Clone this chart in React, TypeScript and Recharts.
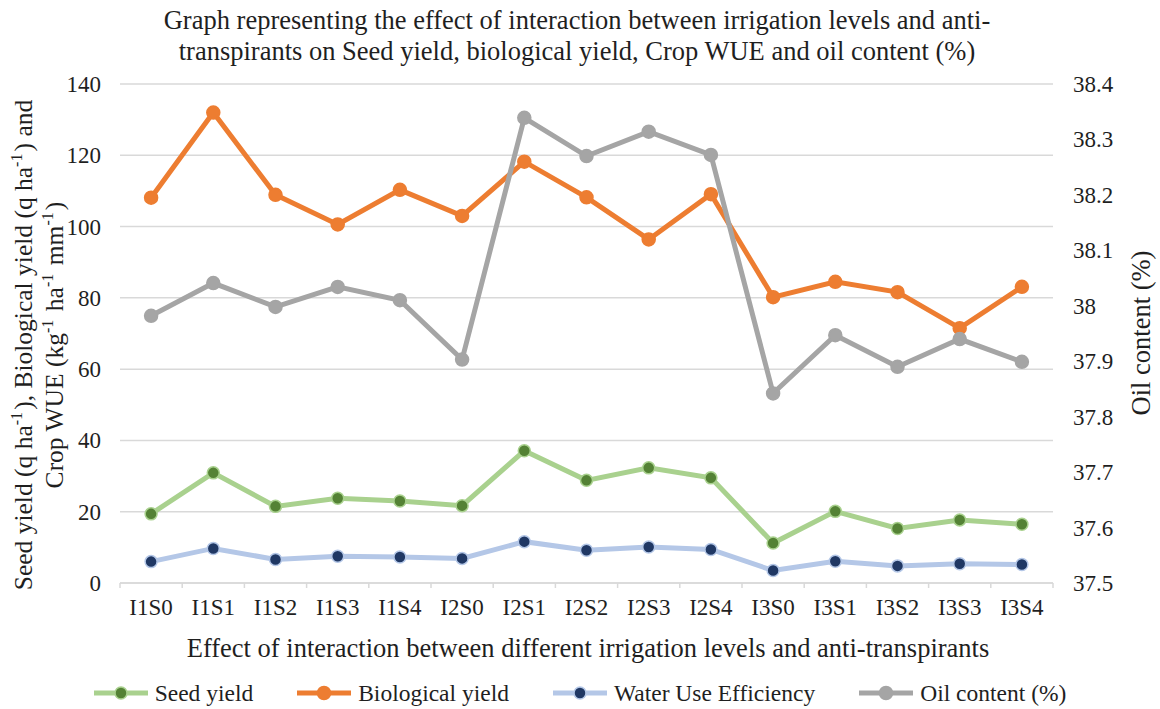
import React from 'react';
import { LineChart, Line, XAxis, YAxis, CartesianGrid } from 'recharts';

const categories = ['I1S0','I1S1','I1S2','I1S3','I1S4','I2S0','I2S1','I2S2','I2S3','I2S4','I3S0','I3S1','I3S2','I3S3','I3S4'];
const seedYield = [19.4,30.9,21.5,23.8,23.0,21.7,37.1,28.8,32.3,29.5,11.2,20.1,15.3,17.7,16.5];
const biologicalYield = [108.1,132.0,108.9,100.6,110.3,103.0,118.2,108.2,96.4,109.1,80.2,84.5,81.6,71.5,83.1];
const waterUseEfficiency = [6.0,9.7,6.6,7.5,7.3,6.9,11.6,9.2,10.1,9.4,3.5,6.1,4.8,5.4,5.2];
const oilContent = [37.982,38.041,37.998,38.034,38.010,37.903,38.339,38.270,38.314,38.272,37.842,37.947,37.890,37.940,37.899];

const leftTicks = [0,20,40,60,80,100,120,140];
const rightTicks = [37.5,37.6,37.7,37.8,37.9,38,38.1,38.2,38.3,38.4];

const seriesNames = ['Seed yield','Biological yield','Water Use Efficiency','Oil content (%)'];
const lineColors = ['#A9D18E','#ED7D31','#B4C7E7','#A5A5A5'];
const markerColors = ['#548235','#ED7D31','#203864','#A5A5A5'];
const markerRadius = [6, 6.5, 6, 6.5];

const data = categories.map((c, i) => ({
  cat: c,
  seed: seedYield[i],
  bio: biologicalYield[i],
  wue: waterUseEfficiency[i],
  oil: oilContent[i],
}));

const W = 1160;
const H = 709;
const LEFT_W = 120;
const RIGHT_W = 107;
const TOP = 84;
const XAXIS_H = 126;
const plotW = W - LEFT_W - RIGHT_W;
const half = plotW / categories.length / 2;
const FONT = '"Liberation Serif", "Times New Roman", serif';
const TEXT = '#1f1f1f';
const GRID = '#D9D9D9';
const TICK_FS = 23;
const TITLE_FS = 26.5;
const AXIS_TITLE_FS = 25.5;

const XTick = (props: any) => {
  const { x, y, payload, index } = props;
  return (
    <g>
      <line x1={x - half} x2={x - half} y1={y} y2={y + 5} stroke={GRID} strokeWidth={1.5} />
      {index === categories.length - 1 && (
        <line x1={x + half} x2={x + half} y1={y} y2={y + 5} stroke={GRID} strokeWidth={1.5} />
      )}
      <text x={x} y={y + 32} textAnchor="middle" fontFamily={FONT} fontSize={TICK_FS} fill={TEXT}>
        {payload.value}
      </text>
    </g>
  );
};

const LeftTick = (props: any) => {
  const { x, y, payload } = props;
  return (
    <text x={x} y={y + 8} textAnchor="end" fontFamily={FONT} fontSize={TICK_FS} fill={TEXT}>
      {payload.value}
    </text>
  );
};

const RightTick = (props: any) => {
  const { x, y, payload } = props;
  return (
    <text x={x} y={y + 8} textAnchor="start" fontFamily={FONT} fontSize={TICK_FS} fill={TEXT}>
      {String(Math.round(payload.value * 10) / 10)}
    </text>
  );
};

const dot = (i: number) => ({
  r: markerRadius[i],
  fill: markerColors[i],
  stroke: lineColors[i],
  strokeWidth: 1.5,
});

const Sup = ({ children }: { children: React.ReactNode }) => (
  <>
    <tspan dy={-10} fontSize={16}>{children}</tspan>
    <tspan dy={10}>{'\u200A'}</tspan>
  </>
);

export default function App() {
  const cy = 345;
  const cyR = 333;
  return (
    <div style={{ position: 'absolute', left: 0, top: 0, width: W, height: H, background: '#fff' }}>
      <LineChart width={W} height={H} data={data} margin={{ top: TOP, right: 0, bottom: 0, left: 0 }}>
        <CartesianGrid yAxisId="left" vertical={false} stroke={GRID} strokeWidth={1.5} />
        <XAxis
          dataKey="cat"
          height={XAXIS_H}
          padding={{ left: half, right: half }}
          axisLine={{ stroke: GRID, strokeWidth: 1.5 }}
          tickLine={false}
          tickSize={0}
          tickMargin={0}
          interval={0}
          tick={<XTick />}
        />
        <YAxis
          yAxisId="left"
          width={LEFT_W}
          domain={[0, 140]}
          ticks={leftTicks}
          axisLine={false}
          tickLine={false}
          tickSize={0}
          tickMargin={19}
          tick={<LeftTick />}
        />
        <YAxis
          yAxisId="right"
          orientation="right"
          width={RIGHT_W}
          domain={[37.5, 38.4]}
          ticks={rightTicks}
          axisLine={false}
          tickLine={false}
          tickSize={0}
          tickMargin={20}
          tick={<RightTick />}
        />
        <Line yAxisId="left" dataKey="seed" name={seriesNames[0]} stroke={lineColors[0]} strokeWidth={5} dot={dot(0)} isAnimationActive={false} />
        <Line yAxisId="left" dataKey="bio" name={seriesNames[1]} stroke={lineColors[1]} strokeWidth={5} dot={dot(1)} isAnimationActive={false} />
        <Line yAxisId="left" dataKey="wue" name={seriesNames[2]} stroke={lineColors[2]} strokeWidth={5} dot={dot(2)} isAnimationActive={false} />
        <Line yAxisId="right" dataKey="oil" name={seriesNames[3]} stroke={lineColors[3]} strokeWidth={5} dot={dot(3)} isAnimationActive={false} />
      </LineChart>

      <svg width={W} height={H} style={{ position: 'absolute', left: 0, top: 0, pointerEvents: 'none' }}>
        <g fontFamily={FONT} fill={TEXT}>
          <text x={577} y={29} textAnchor="middle" fontSize={TITLE_FS}>
            Graph representing the effect of interaction between irrigation levels and anti-
          </text>
          <text x={577} y={60} textAnchor="middle" fontSize={TITLE_FS}>
            transpirants on Seed yield, biological yield, Crop WUE and oil content (%)
          </text>
          <text x={588} y={657} textAnchor="middle" fontSize={TITLE_FS}>
            Effect of interaction between different irrigation levels and anti-transpirants
          </text>
          <text x={32} y={cy} textAnchor="middle" fontSize={AXIS_TITLE_FS} transform={`rotate(-90 32 ${cy})`}>
            Seed yield (q ha<Sup>-1</Sup>), Biological yield (q ha<Sup>-1</Sup>) and
          </text>
          <text x={63} y={cy} textAnchor="middle" fontSize={AXIS_TITLE_FS} transform={`rotate(-90 63 ${cy})`}>
            Crop WUE (kg<Sup>-1</Sup> ha<Sup>-1</Sup> mm<Sup>-1</Sup>)
          </text>
          <text x={1150} y={cyR} textAnchor="middle" fontSize={TITLE_FS} transform={`rotate(-90 1150 ${cyR})`}>
            Oil content (%)
          </text>
        </g>
      </svg>

      <div
        style={{
          position: 'absolute',
          left: 0,
          top: 678,
          width: W,
          display: 'flex',
          justifyContent: 'center',
          gap: 44,
          fontFamily: FONT,
          fontSize: 23.5,
          color: TEXT,
          lineHeight: '30px',
        }}
      >
        {seriesNames.map((n, i) => (
          <div key={n} style={{ display: 'flex', alignItems: 'center' }}>
            <svg width={54} height={16} style={{ marginRight: 7 }}>
              <line x1={0} x2={54} y1={8} y2={8} stroke={lineColors[i]} strokeWidth={5} />
              <circle cx={27} cy={8} r={markerRadius[i]} fill={markerColors[i]} stroke={lineColors[i]} strokeWidth={1.5} />
            </svg>
            <span>{n}</span>
          </div>
        ))}
      </div>
    </div>
  );
}
